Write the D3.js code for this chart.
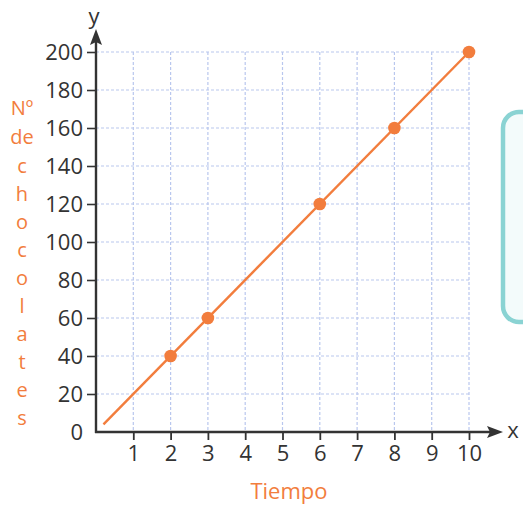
<!DOCTYPE html>
<html><head><meta charset="utf-8">
<script src="https://cdn.jsdelivr.net/npm/d3@7"></script>
<style>
body{margin:0;background:#fff;}
svg{display:block;}
text{font-family:"Open Sans","Noto Sans",sans-serif;}
</style></head>
<body>
<svg id="chart" width="523" height="506"></svg>
<script>
const pointX = [2, 3, 6, 8, 10];
const pointY = [40, 60, 120, 160, 200];
const lineX = [0.2, 10];
const lineY = [4, 200];
const xTicks = [1,2,3,4,5,6,7,8,9,10];
const yTicks = [0,20,40,60,80,100,120,140,160,180,200];
const yLabelLetters = ["Nº","de","c","h","o","c","o","l","a","t","e","s"];
const yLabelPos = [108,137,166,194,222,250,278,306,334,362,390,418];

const svg = d3.select("#chart");
const x = d3.scaleLinear().domain([0,10]).range([96,469]);
const y = d3.scaleLinear().domain([0,200]).range([432,52]);
const orange = "#f27d3d";
const axisCol = "#333";

// teal box on the right
svg.append("rect").attr("x",503).attr("y",112).attr("width",60).attr("height",210)
  .attr("rx",16).attr("fill","#f3fbfb").attr("stroke","#8ad3d3").attr("stroke-width",4.5);

// grid
const grid = svg.append("g").attr("stroke","#b9c7ee").attr("stroke-width",1.2).attr("stroke-dasharray","3,2");
grid.selectAll(".v").data(xTicks).join("line")
  .attr("x1",d=>x(d)).attr("x2",d=>x(d)).attr("y1",y(200)).attr("y2",y(0));
grid.selectAll(".h").data(yTicks.filter(d=>d>0)).join("line")
  .attr("x1",x(0)).attr("x2",x(10)).attr("y1",d=>y(d)).attr("y2",d=>y(d));

// axes
const yAxis = d3.axisLeft(y).tickValues(yTicks).tickSize(9).tickPadding(4);
const gy = svg.append("g").attr("transform",`translate(${x(0)},0)`).call(yAxis);
gy.select(".domain").remove();
gy.selectAll(".tick line").attr("stroke",axisCol).attr("stroke-width",1.6);
gy.selectAll(".tick text").attr("fill",axisCol).attr("font-size",22).attr("dy","0.36em");
gy.selectAll(".tick").filter(d=>d===0).select("line").remove();

const xAxis = d3.axisBottom(x).tickValues(xTicks).tickSize(8).tickPadding(5);
const gx = svg.append("g").attr("transform",`translate(0,${y(0)})`).call(xAxis);
gx.select(".domain").remove();
gx.selectAll(".tick line").attr("stroke",axisCol).attr("stroke-width",1.8);
gx.selectAll(".tick text").attr("fill",axisCol).attr("font-size",22).attr("dy","0.72em");

// axis lines with arrows
svg.append("line").attr("x1",x(0)).attr("x2",x(0)).attr("y1",y(0)+1).attr("y2",40)
  .attr("stroke",axisCol).attr("stroke-width",2.4);
svg.append("path").attr("d",`M${x(0)},29 L${x(0)+6},45 L${x(0)},42 L${x(0)-6},45 Z`).attr("fill",axisCol);
svg.append("line").attr("x1",x(0)-1).attr("x2",492).attr("y1",y(0)).attr("y2",y(0))
  .attr("stroke",axisCol).attr("stroke-width",2.4);
svg.append("path").attr("d",`M503,${y(0)} L487,${y(0)-6} L490,${y(0)} L487,${y(0)+6} Z`).attr("fill",axisCol);
svg.append("text").attr("x",x(0)-2).attr("y",24).attr("text-anchor","middle").attr("font-size",22).attr("fill",axisCol).text("y");
svg.append("text").attr("x",513).attr("y",y(0)+6).attr("text-anchor","middle").attr("font-size",22).attr("fill",axisCol).text("x");

// line and points
svg.append("path").datum(lineX.map((d,i)=>[d,lineY[i]]))
  .attr("d",d3.line().x(d=>x(d[0])).y(d=>y(d[1])))
  .attr("fill","none").attr("stroke",orange).attr("stroke-width",2.4);
svg.selectAll(".pt").data(pointX.map((d,i)=>[d,pointY[i]])).join("circle")
  .attr("cx",d=>x(d[0])).attr("cy",d=>y(d[1])).attr("r",6.3).attr("fill",orange);

// axis titles
svg.append("text").attr("x",289).attr("y",499).attr("text-anchor","middle")
  .attr("font-size",22).attr("fill",orange).text("Tiempo");
svg.selectAll(".yl").data(yLabelLetters).join("text")
  .attr("x",22).attr("y",(d,i)=>yLabelPos[i]).attr("dy","0.35em").attr("text-anchor","middle")
  .attr("font-size",20).attr("fill",orange).text(d=>d);
</script>
</body></html>
